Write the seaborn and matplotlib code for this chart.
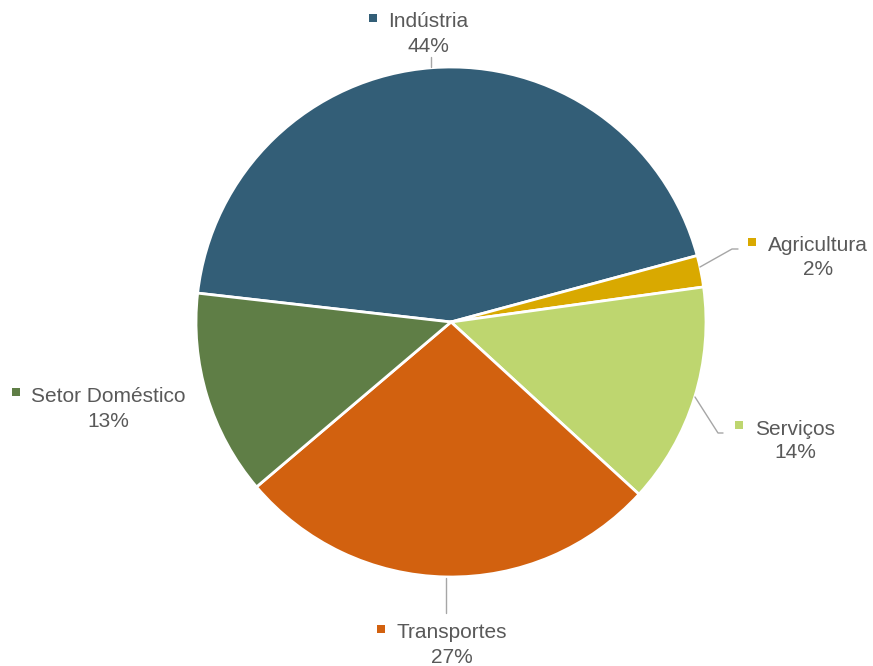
import numpy as np
import matplotlib
matplotlib.use("Agg")
import matplotlib.pyplot as plt
import seaborn as sns

# data
setores = ["Indústria", "Agricultura", "Serviços", "Transportes", "Setor Doméstico"]
percentagens = [44, 2, 14, 27, 13]
cores = ["#335E77", "#D9A900", "#BED66F", "#D2610F", "#5F7E46"]

sns.set_theme(style="white")
plt.rcParams["font.family"] = ["Liberation Sans", "DejaVu Sans"]

W, H = 873, 666
fig = plt.figure(figsize=(W / 100, H / 100), dpi=100)
ax = fig.add_axes([0, 0, 1, 1])

cx, cy, r = 451, H - 322, 255
wedges, _ = ax.pie(percentagens, colors=cores, startangle=173.5, counterclock=False,
                   center=(cx, cy), radius=r, frame=True,
                   wedgeprops=dict(edgecolor="white", linewidth=2))
ax.set_xlim(0, W)
ax.set_ylim(0, H)
ax.set_aspect("equal")
ax.axis("off")

# label layout in image pixels: (name centre x, name baseline y, pct baseline y, marker x, marker y)
layout = [
    (428, 27, 52, 373, 18),
    (818, 251, 275, 752, 242),
    (795, 435, 458, 739, 425),
    (452, 638, 663, 381, 629),
    (108, 402, 427, 16, 392),
]
# leader lines (image pixels)
leaders = [
    [(431, 57), (431, 67)],
    [(700, 267), (732, 249), (738, 249)],
    [(695, 397), (718, 433), (723, 433)],
    [(446, 578), (446, 613)],
    None,
]

txt = "#595959"
for nome, p, cor, (nx, ny, py, mx, my), ld in zip(setores, percentagens, cores, layout, leaders):
    ax.text(nx, H - ny, nome, ha="center", va="baseline", fontsize=15, color=txt)
    ax.text(nx, H - py, f"{p}%", ha="center", va="baseline", fontsize=15, color=txt)
    ax.scatter([mx], [H - my], marker="s", s=36, color=cor, linewidths=0)
    if ld:
        xs = [q[0] for q in ld]
        ys = [H - q[1] for q in ld]
        ax.plot(xs, ys, color="#A6A6A6", lw=1)

fig.savefig("out.png", dpi=100, facecolor="white")
